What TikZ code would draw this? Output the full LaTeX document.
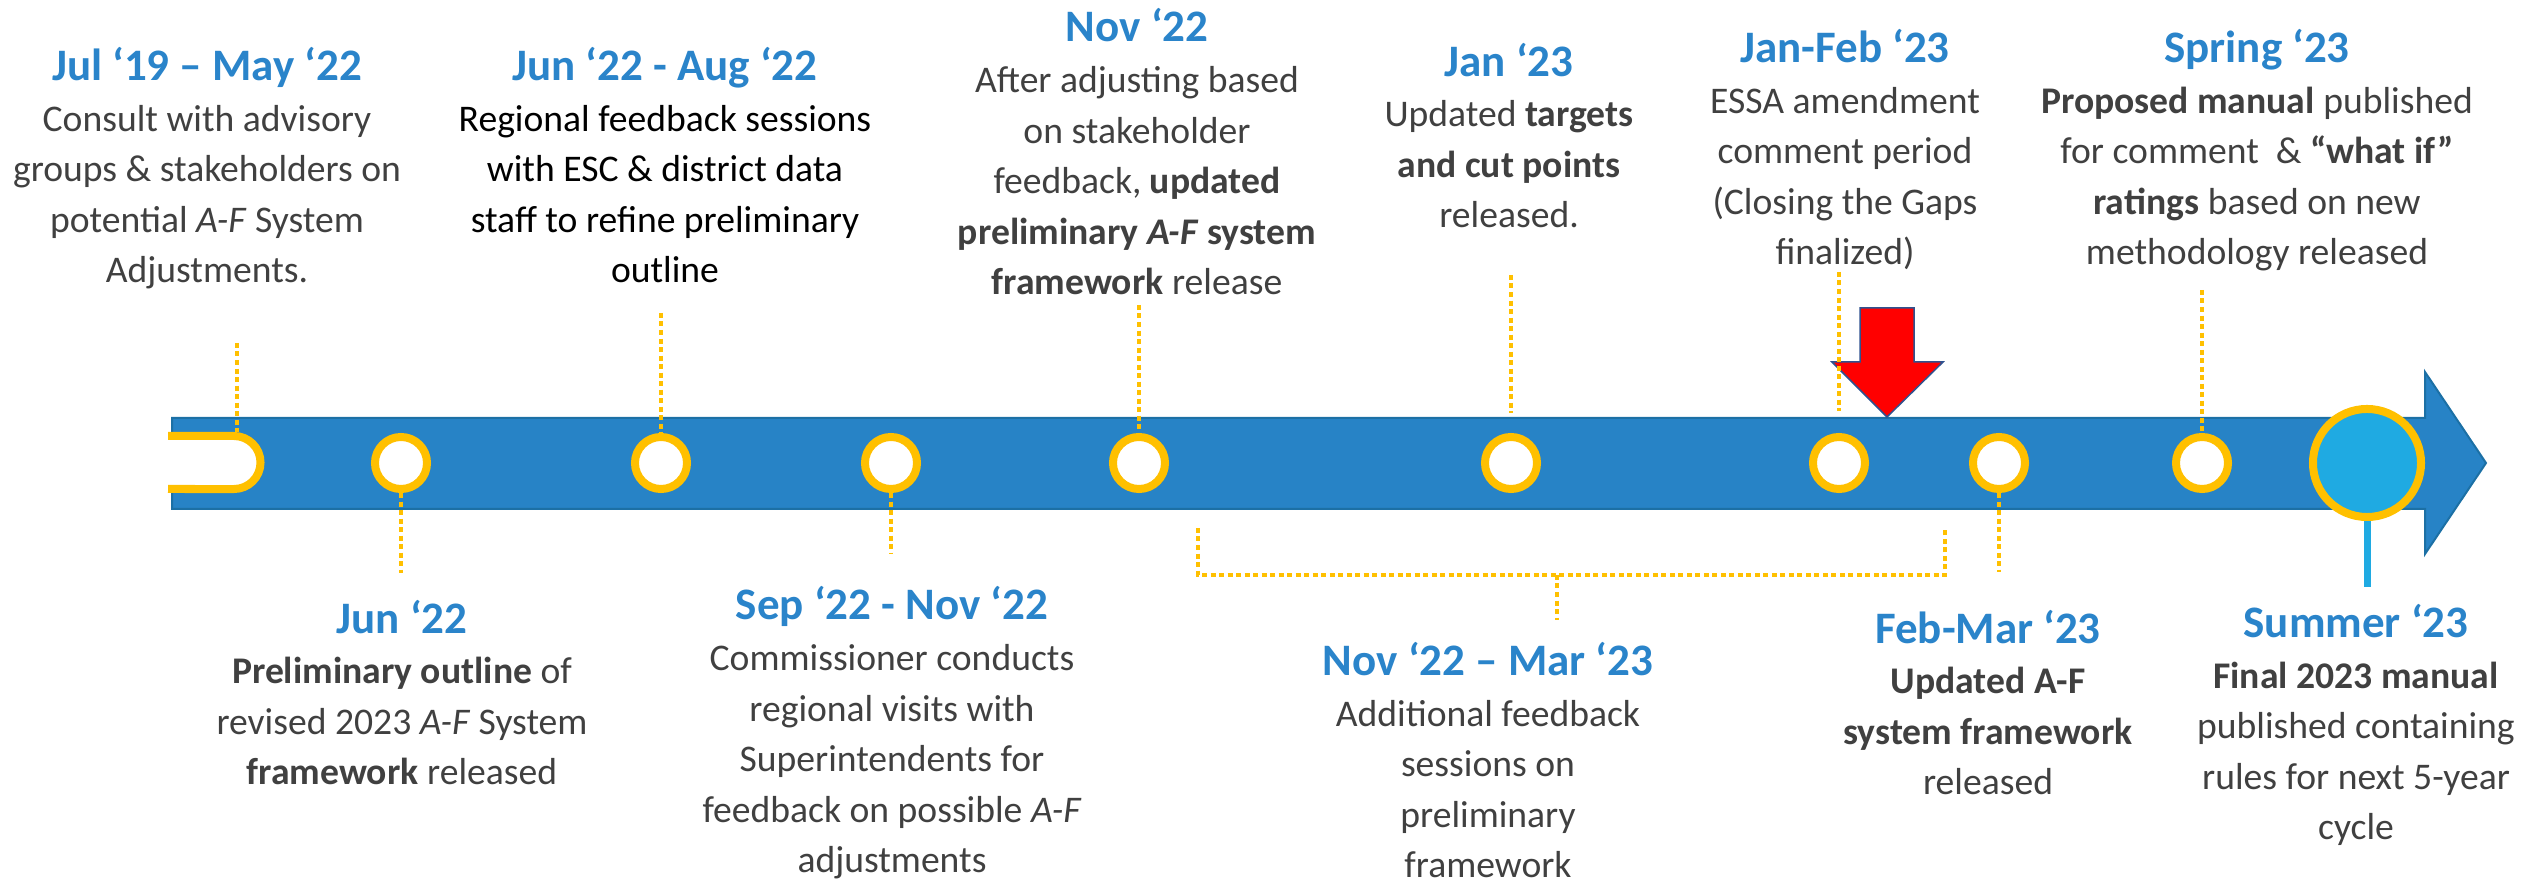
\documentclass[tikz,border=0pt]{standalone}
\usepackage{fontspec}
\setmainfont{Carlito}
\usetikzlibrary{positioning}

\definecolor{bandblue}{RGB}{39,131,198}
\definecolor{bandedge}{RGB}{28,112,165}
\definecolor{gold}{RGB}{255,192,0}
\definecolor{dateblue}{RGB}{42,132,202}
\definecolor{textgray}{RGB}{64,64,64}
\definecolor{skyblue}{RGB}{31,170,226}
\definecolor{arrowedge}{RGB}{47,82,143}

\newcommand{\datelabel}[1]{{\color{dateblue}\fontsize{12.8}{14.4}\selectfont\bfseries #1}}

\begin{document}
\begin{tikzpicture}[x=0.01cm, y=-0.01cm,
    note/.style={align=center, text=textgray, inner sep=0pt, anchor=base,
                 font=\fontsize{10.7}{14.4}\selectfont},
    stop/.style={circle, draw=gold, fill=white, line width=0.08cm,
                 minimum size=0.52cm, inner sep=0pt},
    link/.style={draw=gold, line width=0.045cm, dash pattern=on 0.05cm off 0.035cm}]

        \useasboundingbox (0,0) rectangle (2532,886);

        % The time line band with its arrow head
        \filldraw[fill=bandblue, draw=bandedge, line width=0.02cm]
            (172,418) -- (2425,418) -- (2425,372) -- (2486,463)
            -- (2425,554) -- (2425,509) -- (172,509) -- cycle;

        % Open start of the band
        \filldraw[fill=white, draw=gold, line width=0.08cm]
            (168,436) -- (234,436) arc[start angle=90, end angle=-90, radius=0.265cm]
            -- (168,489);
        \coordinate (start) at (237,432);

        % Milestones along the band
        \node[stop] (c1) at (401,463) {};
        \node[stop] (c2) at (661,463) {};
        \node[stop] (c3) at (891,463) {};
        \node[stop] (c4) at (1139,463) {};
        \node[stop] (c5) at (1511,463) {};
        \node[stop] (c6) at (1839,463) {};
        \node[stop] (c7) at (1999,463) {};
        \node[stop] (c8) at (2202,463) {};
        \node[circle, draw=gold, fill=skyblue, line width=0.08cm,
              minimum size=1.08cm, inner sep=0pt] (final) at (2367,463) {};
        \coordinate (stem) at (2367,587);
        \draw[skyblue, line width=0.07cm] (final.south) -- (stem);

        % Red marker for the ESSA comment period
        \filldraw[fill=red, draw=arrowedge, line width=0.015cm]
            (1860,308) -- (1914,308) -- (1914,362) -- (1943,362) -- (1887,417)
            -- (1832,362) -- (1860,362) -- cycle;

        % Labels above the band (placed at the baseline of their last line)
        \node[note] (jul19) at (207,283) {\datelabel{Jul ‘19 – May ‘22}\\
            Consult with advisory\\ groups \& stakeholders on\\
            potential \textit{A-F} System\\ Adjustments.};
        \node[note, text=black] (jun22aug) at (665,283) {\datelabel{Jun ‘22 - Aug ‘22}\\
            Regional feedback sessions\\ with ESC \& district data\\
            staff to refine preliminary\\ outline};
        \node[note] (nov22) at (1137,295) {\datelabel{Nov ‘22}\\
            After adjusting based\\ on stakeholder\\ feedback, \textbf{updated}\\
            \textbf{preliminary \textit{A-F} system}\\ \textbf{framework} release};
        \node[note] (jan23) at (1509,228) {\datelabel{Jan ‘23}\\
            Updated \textbf{targets}\\ \textbf{and cut points}\\ released.};
        \node[note] (janfeb23) at (1845,265) {\datelabel{Jan-Feb ‘23}\\
            ESSA amendment\\ comment period\\ (Closing the Gaps\\ finalized)};
        \node[note] (spring23) at (2257,265) {\datelabel{Spring ‘23}\\
            \textbf{Proposed manual} published\\ for comment\ \ \& \textbf{“what if”}\\
            \textbf{ratings} based on new\\ methodology released};

        % Labels below the band
        \node[note] (jun22) at (402,785) {\datelabel{Jun ‘22}\\
            \textbf{Preliminary outline} of\\ revised 2023 \textit{A-F} System\\
            \textbf{framework} released};
        \node[note] (sepnov22) at (892,873) {\datelabel{Sep ‘22 - Nov ‘22}\\
            Commissioner conducts\\ regional visits with\\ Superintendents for\\
            feedback on possible \textit{A-F}\\ adjustments};
        \node[note] (nov22mar23) at (1488,878) {\datelabel{Nov ‘22 – Mar ‘23}\\
            Additional feedback\\ sessions on\\ preliminary\\ framework};
        \node[note] (febmar23) at (1988,795) {\datelabel{Feb-Mar ‘23}\\
            \textbf{Updated A-F}\\ \textbf{system framework}\\ released};
        \node[note] (summer23) at (2356,840) {\datelabel{Summer ‘23}\\
            \textbf{Final 2023 manual}\\ published containing\\
            rules for next 5-year\\ cycle};

        % Dotted leaders from the labels to the band
        \coordinate (t0) at (237,343);
        \coordinate (t2) at (661,313);
        \coordinate (t4) at (1139,305);
        \coordinate (t5) at (1511,275);
        \coordinate (t6) at (1839,272);
        \coordinate (t8) at (2202,290);
        \draw[link] (t0) -- (start);
        \draw[link] (t2) -- (c2.north);
        \draw[link] (t4) -- (c4.north);
        \draw[link, shorten >=0.2cm] (t5) -- (c5.north);
        \draw[link, shorten >=0.22cm] (t6) -- (c6.north);
        \draw[link] (t8) -- (c8.north);

        \coordinate (b1) at (401,573);
        \coordinate (b3) at (891,553);
        \coordinate (b7) at (1999,572);
        \draw[link] (c1.south) -- (b1);
        \draw[link] (c3.south) -- (b3);
        \draw[link] (c7.south) -- (b7);

        % Bracket spanning the feedback period
        \coordinate (brl) at (1198,528);
        \coordinate (brr) at (1945,528);
        \coordinate (brm) at (1557,575);
        \coordinate (brt) at (1557,620);
        \draw[link] (brl) -- (brl |- brm) -- (brr |- brm) -- (brr);
        \draw[link] (brm) -- (brt);

\end{tikzpicture}
\end{document}
